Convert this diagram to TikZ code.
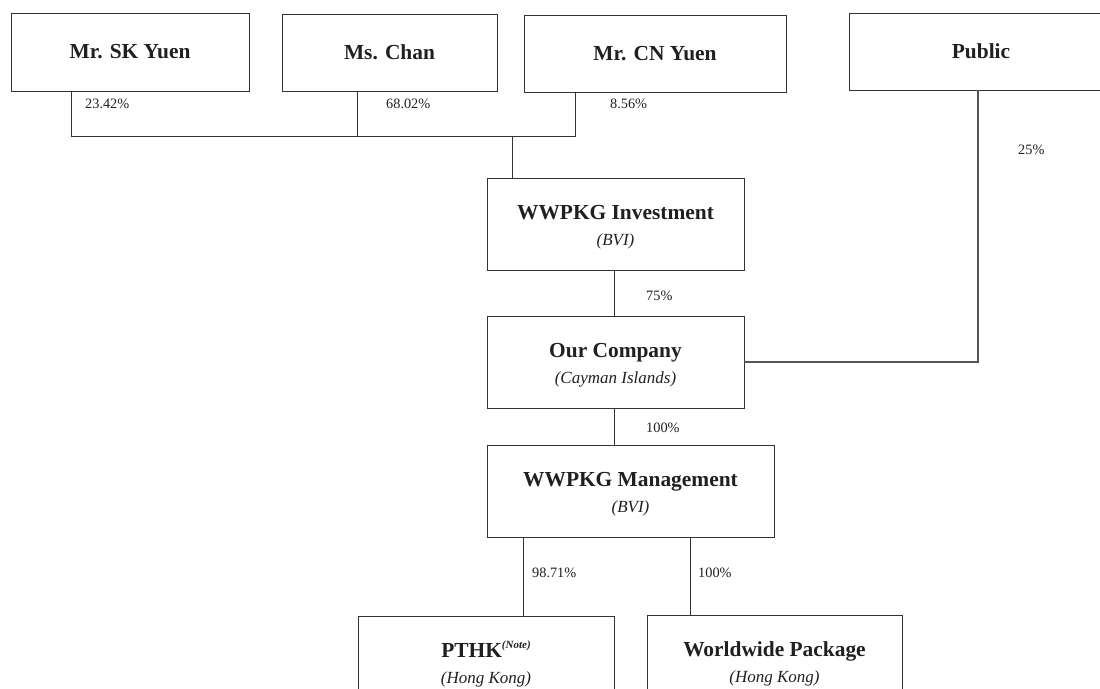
\documentclass[tikz,border=0pt]{standalone}
\usepackage{fontspec}
\setmainfont{Liberation Serif}
\definecolor{ink}{HTML}{231F20}
\definecolor{ln}{HTML}{333333}
\definecolor{lnb}{HTML}{555555}
\begin{document}
\begin{tikzpicture}[x=1pt,y=-1pt,
  box/.style={draw=ln,line width=0.9pt,rectangle,inner sep=0pt,text=ink,align=center,font=\fontsize{21.4}{25}\selectfont\bfseries},
  twobox/.style={box,minimum width=#1,minimum height=92},
  pct/.style={anchor=west,inner sep=0pt,text=ink,font=\fontsize{14.3}{16}\selectfont},
  conn/.style={draw=ln,line width=0.9pt},
  connb/.style={draw=lnb,line width=1.6pt}]
\clip (0,0) rectangle (1100,688);
\fill[white] (0,0) rectangle (1100,688);
\newcommand{\sub}[1]{\\[1pt]{\fontsize{17}{20}\selectfont\mdseries\itshape #1}}
\newcommand{\up}{\rule{0pt}{21pt}}
% top shareholders
\node[box,minimum width=238,minimum height=78] (sk) at (130,52) {Mr. SK Yuen};
\node[box,minimum width=215,minimum height=77] (chan) at (389.5,52.5) {Ms. Chan};
\node[box,minimum width=262,minimum height=77] (cn) at (655,53.5) {Mr. CN Yuen};
\node[box,minimum width=264,minimum height=77] (pub) at (981,51.5) {Public};
% entities
\node[twobox=257] (inv) at (615.5,224) {\up WWPKG Investment\sub{(BVI)}};
\node[twobox=257] (our) at (615.5,362) {\up Our Company\sub{(Cayman Islands)}};
\node[twobox=287] (mgmt) at (630.5,491) {\up WWPKG Management\sub{(BVI)}};
\node[twobox=256] (pthk) at (486,662) {\up PTHK\raisebox{9pt}{\fontsize{11}{12}\selectfont\bfseries\itshape (Note)}\sub{(Hong Kong)}};
\node[twobox=255] (ww) at (774.5,661) {\up Worldwide Package\sub{(Hong Kong)}};
% helper coordinates
\coordinate (skx) at (71,0);
\coordinate (chanx) at (357,0);
\coordinate (cnx) at (575,0);
\coordinate (j) at (512,136);
\coordinate (pubx) at (978,0);
\coordinate (midx) at (614,0);
\coordinate (lx) at (523,0);
\coordinate (rx) at (690,0);
% connectors
\draw[conn] (sk.south -| skx) -- (skx |- j) -- (cnx |- j) -- (cn.south -| cnx);
\draw[conn] (chan.south -| chanx) -- (chanx |- j);
\draw[conn] (j) -- (inv.north -| j);
\draw[conn] (inv.south -| midx) -- (our.north -| midx);
\draw[conn] (our.south -| midx) -- (mgmt.north -| midx);
\draw[connb] (our.east) -- (pubx |- our.east) -- (pub.south -| pubx);
\draw[conn] (mgmt.south -| lx) -- (pthk.north -| lx);
\draw[conn] (mgmt.south -| rx) -- (ww.north -| rx);
% percentages
\node[pct] (p1) at (85,104) {23.42\%};
\node[pct] (p2) at (386,104) {68.02\%};
\node[pct] (p3) at (610,104) {8.56\%};
\node[pct] (p4) at (1018,150) {25\%};
\node[pct] (p5) at (646,296) {75\%};
\node[pct] (p6) at (646,428) {100\%};
\node[pct] (p7) at (532,573) {98.71\%};
\node[pct] (p8) at (698,573) {100\%};
\end{tikzpicture}
\end{document}
